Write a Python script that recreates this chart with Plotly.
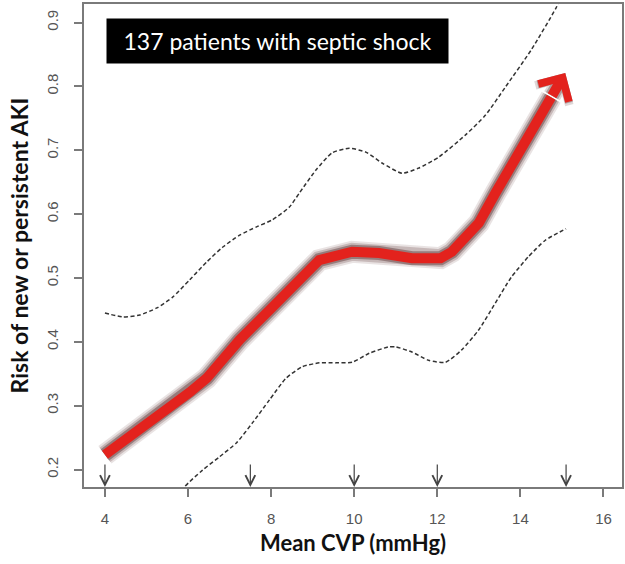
import plotly.graph_objects as go

# ---- data ----
risk_x = [4.0, 4.84, 6.04, 6.45, 7.24, 8.03, 9.16, 9.95, 10.6, 11.39, 12.08, 12.35, 13.0, 13.4, 13.88, 14.74, 15.08]
risk_y = [0.223, 0.262, 0.321, 0.343, 0.403, 0.454, 0.528, 0.541, 0.539, 0.531, 0.531, 0.541, 0.586, 0.633, 0.685, 0.783, 0.821]

upper_x = [4.0, 4.43, 4.84, 5.25, 5.63, 6.04, 6.45, 6.83, 7.24, 7.65, 8.03, 8.44, 8.68, 9.08, 9.47, 9.88,
           10.28, 10.67, 11.15, 11.55, 12.03, 12.68, 13.16, 13.64, 14.26, 14.86, 15.1]
upper_y = [0.445, 0.439, 0.442, 0.453, 0.470, 0.497, 0.525, 0.548, 0.567, 0.580, 0.591, 0.611, 0.633, 0.669, 0.696, 0.703,
           0.697, 0.680, 0.664, 0.672, 0.689, 0.724, 0.755, 0.799, 0.857, 0.923, 0.955]

lower_x = [5.6, 5.92, 6.35, 6.76, 7.17, 7.55, 7.96, 8.36, 8.75, 9.16, 9.56, 9.95, 10.36, 10.83, 11.0,
           11.39, 11.79, 12.2, 12.58, 12.99, 13.4, 13.78, 14.19, 14.6, 15.1]
lower_y = [0.14, 0.173, 0.199, 0.220, 0.242, 0.273, 0.309, 0.343, 0.361, 0.367, 0.367, 0.368, 0.382, 0.392, 0.392,
           0.384, 0.371, 0.368, 0.387, 0.418, 0.461, 0.501, 0.533, 0.559, 0.577]

rug_x = [4, 7.5, 10, 12, 15.1]

x_ticks = [4, 6, 8, 10, 12, 14, 16]
y_ticks = [0.2, 0.3, 0.4, 0.5, 0.6, 0.7, 0.8, 0.9]

x_range = [3.496, 16.446]
y_range = [0.1726, 0.929]

title_text = "137 patients with septic shock"
x_title = "Mean CVP (mmHg)"
y_title = "Risk of new or persistent AKI"

RED = "#e3221d"

fig = go.Figure()

# confidence bands (dashed)
for xs, ys in [(upper_x, upper_y), (lower_x, lower_y)]:
    fig.add_trace(go.Scatter(x=xs, y=ys, mode="lines",
                             line=dict(color="#333333", width=1.5, dash="4px,2.5px", shape="spline", smoothing=0.6),
                             hoverinfo="skip", showlegend=False))

# glow / shadow around main curve
for w, c in [(22, "rgba(100,60,60,0.14)"), (18, "rgba(100,60,60,0.25)"), (14, "rgba(90,50,50,0.45)")]:
    fig.add_trace(go.Scatter(x=risk_x[:-1], y=risk_y[:-1], mode="lines",
                             line=dict(color=c, width=w), hoverinfo="skip", showlegend=False))

# main red curve
fig.add_trace(go.Scatter(x=risk_x[:-1], y=risk_y[:-1], mode="lines",
                         line=dict(color=RED, width=10), hoverinfo="skip", showlegend=False))

annotations = []
# arrow shadow + red arrow head on the last segment
for w, c, s in [(18, "rgba(100,60,60,0.2)", 0.42), (14, "rgba(90,50,50,0.35)", 0.5), (10, RED, 0.68)]:
    annotations.append(dict(x=risk_x[-1], y=risk_y[-1], ax=risk_x[-2], ay=risk_y[-2],
                            xref="x", yref="y", axref="x", ayref="y", text="", showarrow=True,
                            arrowhead=4, arrowsize=s, arrowwidth=w, arrowcolor=c, standoff=0))

# rug arrows on the x axis
for xv in rug_x:
    annotations.append(dict(x=xv, y=y_range[0], xref="x", yref="y", ax=0, ay=-24, text="",
                            showarrow=True, arrowhead=5, arrowsize=1.6, arrowwidth=1.2, arrowcolor="#444444"))

# title box
annotations.append(dict(x=0.36, y=0.923, xref="paper", yref="paper", xanchor="center", yanchor="middle",
                        text=title_text, showarrow=False, bgcolor="black", width=341, height=44, borderpad=0,
                        font=dict(family="Lato", size=23, color="white")))

fig.update_layout(
    width=625, height=564,
    margin=dict(l=84, r=1, t=4, b=77),
    paper_bgcolor="white", plot_bgcolor="white",
    annotations=annotations,
    showlegend=False,
)

axis_common = dict(showline=True, mirror=True, linecolor="#7a7a7a", linewidth=2,
                   ticks="outside", tickcolor="#7a7a7a", tickwidth=1.5, ticklen=8,
                   showgrid=False, zeroline=False,
                   tickfont=dict(family="Liberation Sans", size=15, color="#555555"))

fig.update_xaxes(range=x_range, tickvals=x_ticks, ticktext=[str(v) for v in x_ticks], ticklabelstandoff=9,
                 title=dict(text="<b>" + x_title + "</b>", font=dict(family="Lato", size=22, color="#111111"), standoff=10),
                 **axis_common)
fig.update_yaxes(range=y_range, tickvals=y_ticks, ticktext=[f"{v:.1f}" for v in y_ticks], tickangle=-90,
                 ticklabelstandoff=10,
                 title=dict(text="<b>" + y_title + "</b>", font=dict(family="Lato", size=23, color="#111111"), standoff=9),
                 **axis_common)

fig.write_html("out.html")
